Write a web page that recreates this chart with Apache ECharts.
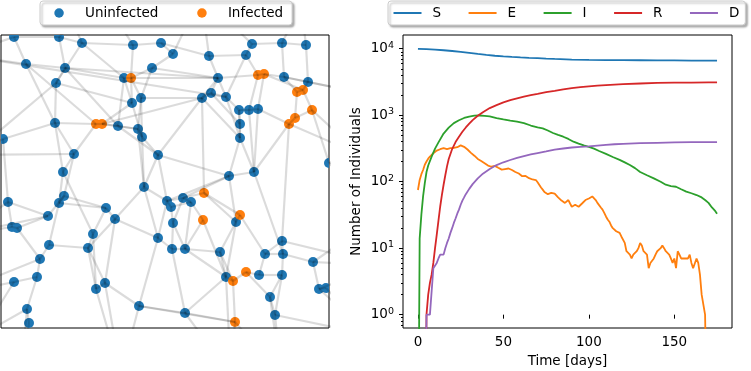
<!DOCTYPE html>
<html>
<head>
<meta charset="utf-8">
<title>SEIRD on a contact network</title>
<script src="https://cdn.jsdelivr.net/npm/echarts@6/dist/echarts.min.js"></script>
<style>
  html, body { margin: 0; padding: 0; background: #fff; }
  #chart { width: 751px; height: 371px; }
</style>
</head>
<body>
<div id="chart"></div>
<script>
// ---- network snapshot (layout units of the left box, y grows downward) ----
const nodeX = [13, 58, 81, 132, 160, 172, 25, 64, 151, 55, 123, 130, 140, 131, 54, 95, 101, 117, 137, 141,
  2, 73, 157, 62, 251, 281, 305, 208, 245, 257, 263, 283, 307, 217, 210, 201, 225, 296, 302, 311,
  294, 288, 238, 248, 257, 239, 239, 328, 228, 253, 143, 7, 63, 58, 105, 114, 47, 166, 170, 172,
  11, 16, 92, 157, 171, 48, 87, 39, 36, 13, 95, 104, 138, 26, 28, 182, 190, 203, 239, 202,
  235, 281, 184, 219, 264, 282, 312, 245, 225, 232, 258, 281, 318, 325, 269, 184, 274, 234,
  // nodes lying outside the visible window
  -40, -30, -50, 60, 200, 300, 370, 380, 370, 120, 230, 20, 360, -20, 100, 380, 280, -40];
const nodeY = [2, 2, 8, 10, 8, 19, 29, 33, 33, 48, 43, 43, 63, 68, 88, 89, 89, 91, 94, 102,
  104, 119, 120, 137, 9, 8, 10, 21, 20, 40, 39, 42, 47, 43, 58, 63, 62, 57, 55, 75,
  83, 89, 75, 75, 74, 89, 103, 128, 141, 137, 152, 167, 161, 168, 173, 184, 181, 166, 172, 188,
  192, 193, 199, 203, 214, 210, 213, 224, 242, 247, 254, 248, 271, 274, 288, 163, 167, 158, 180, 185,
  187, 206, 214, 217, 219, 219, 227, 237, 242, 246, 240, 240, 254, 253, 262, 278, 280, 287,
  20, 120, 260, -40, -40, -30, 60, 180, 300, 340, 340, 340, 120, 300, -40, 230, 340, 200];
// 1 = infected, 0 = uninfected
const nodeState = [0, 0, 0, 0, 0, 0, 0, 0, 0, 0, 0, 1, 0, 0, 0, 1, 1, 0, 0, 0,
  0, 0, 0, 0, 0, 0, 0, 0, 0, 1, 1, 0, 0, 0, 0, 0, 0, 1, 1, 1,
  1, 1, 0, 0, 0, 0, 0, 0, 0, 0, 0, 0, 0, 0, 0, 0, 0, 0, 0, 0,
  0, 0, 0, 0, 0, 0, 0, 0, 0, 0, 0, 0, 0, 0, 0, 0, 0, 1, 1, 1,
  0, 0, 0, 0, 0, 0, 0, 1, 0, 1, 0, 0, 0, 0, 0, 0, 0, 1,
  0, 0, 0, 0, 0, 0, 0, 0, 0, 0, 0, 0, 0, 0, 0, 0, 0, 0];
const edges = [
  [0, 1], [0, 6], [0, 98], [1, 2], [1, 7], [1, 112], [2, 3], [2, 10], [2, 101], [3, 4], [3, 11], [3, 112],
  [4, 5], [4, 27], [5, 8], [5, 102], [6, 7], [6, 14], [6, 98], [6, 15], [7, 9], [7, 17], [7, 10], [8, 11],
  [8, 12], [8, 33], [9, 14], [9, 99], [10, 11], [10, 13], [11, 12], [11, 13], [12, 18], [12, 35], [13, 16],
  [13, 19], [14, 15], [14, 20], [14, 21], [15, 16], [16, 17], [16, 18], [16, 35], [17, 18], [17, 22],
  [18, 19], [19, 22], [19, 50], [20, 51], [20, 99], [21, 23], [21, 52], [21, 15], [22, 57], [22, 35],
  [22, 48], [23, 53], [23, 62], [23, 14],
  [24, 25], [24, 28], [24, 102], [25, 26], [25, 31], [25, 103], [26, 32], [26, 103], [27, 28], [27, 33],
  [27, 102], [28, 29], [28, 36], [29, 30], [29, 33], [29, 43], [30, 31], [30, 38], [30, 44], [31, 32],
  [31, 37], [32, 104], [32, 38], [33, 36], [33, 35], [34, 35], [34, 36], [34, 45], [35, 46], [36, 42],
  [37, 38], [37, 40], [38, 39], [39, 40], [39, 110], [39, 47], [40, 41], [41, 44], [41, 49], [41, 81],
  [42, 43], [42, 45], [43, 44], [45, 46], [46, 48], [46, 49], [47, 110], [47, 105], [48, 49], [48, 75],
  [48, 80], [49, 85],
  [50, 57], [50, 63], [50, 55], [51, 60], [51, 56], [51, 115], [52, 53], [52, 56], [52, 54], [53, 65],
  [54, 55], [54, 62], [55, 63], [55, 71], [56, 61], [57, 58], [57, 75], [58, 59], [58, 76], [59, 64],
  [59, 82], [60, 61], [60, 115], [61, 67], [62, 66], [62, 70], [63, 64], [63, 72], [64, 82], [65, 67],
  [65, 66], [66, 70], [67, 68], [68, 69], [68, 73], [69, 111], [69, 100], [70, 71], [70, 107], [71, 72],
  [72, 95], [72, 107], [73, 74], [74, 109],
  [75, 76], [75, 77], [76, 79], [77, 80], [77, 78], [77, 35], [78, 80], [78, 84], [79, 82], [79, 88],
  [80, 83], [81, 85], [81, 84], [81, 113], [82, 83], [83, 88], [83, 89], [84, 90], [84, 85], [85, 91],
  [85, 86], [86, 92], [86, 113], [87, 89], [87, 90], [87, 94], [88, 89], [89, 97], [90, 91], [91, 96],
  [92, 93], [93, 106], [94, 96], [94, 114], [95, 97], [95, 108], [96, 106], [97, 108], [97, 114],
  [91, 94], [72, 97], [88, 95], [64, 95],
  // longer links crossing the window
  [98, 36], [7, 33], [9, 13], [11, 33], [104, 31], [110, 41], [105, 86], [113, 92], [99, 21], [115, 56],
  [111, 73], [109, 73], [107, 71], [108, 88], [114, 96], [106, 92], [100, 67], [2, 9], [10, 17], [12, 19],
  [18, 50], [22, 50], [33, 34], [42, 46], [43, 49], [44, 49], [80, 88], [82, 88], [76, 82], [75, 59],
  [63, 57], [54, 53], [55, 66], [71, 66], [57, 48], [36, 46]
];

// ---- epidemic curves ----
const sDays = [0, 5, 10, 15, 20, 25, 30, 35, 40, 45, 50, 55, 60, 65, 70, 75, 80, 90, 100, 110, 120, 130, 140, 150, 160, 170, 175];
const sValues = [9925, 9840, 9700, 9500, 9250, 8950, 8650, 8350, 8080, 7850, 7680, 7540, 7420, 7310, 7210, 7110, 7030, 6880, 6800, 6760, 6730, 6710, 6690, 6670, 6650, 6640, 6630];

// exposed, one value per day from day 0
const eValues = [75, 106, 130, 150, 180, 201, 222, 239, 255, 268,
  282, 294, 300, 308, 315, 319, 312, 308, 314, 319,
  316, 322, 319, 330, 345, 352, 350, 335, 318, 305,
  290, 272, 258, 246, 232, 220, 212, 205, 200, 190,
  180, 175, 170, 168, 172, 173, 166, 162, 158, 152,
  150, 155, 160, 158, 153, 150, 145, 140, 134, 133,
  128, 121, 124, 122, 116, 113, 112, 108, 111, 106,
  98, 92, 82, 76, 70, 67, 65, 63, 68, 70,
  66, 62, 58, 55, 52, 50, 48, 49, 53, 47,
  42, 44, 45, 43, 42, 45, 47, 50, 53, 55,
  56, 58, 60, 57, 53, 48, 45, 41, 38, 34,
  30, 27, 25, 22, 20, 19, 18, 17, 17, 15,
  14, 12, 9, 9, 8, 7, 8, 8, 9, 10,
  12, 11, 9, 9, 8, 5, 6, 6, 7, 8,
  9, 9, 10, 11, 10, 9, 9, 8, 7, 6,
  7, 5, 9, 8, 7, 7, 7, 7, 7, 8,
  6, 5, 5, 7, 6, 4, 2, 2, 1, 1,
  0, 0, 0, 0, 0, 0];

const iDays = [0, 1, 2, 3, 4, 5, 6, 8, 10, 12, 15, 18, 21, 24, 27, 30, 33, 36, 39, 42, 46, 50, 54, 58, 62, 66, 70,
  73, 76, 79, 82, 85, 88, 91, 94, 97, 100, 103, 106, 110, 114, 118, 121, 124, 127, 130,
  134, 138, 142, 145, 148, 151, 154, 157, 160, 163, 166, 168, 170, 172, 174, 175];
const iValues = [0, 14, 32, 60, 95, 140, 175, 238, 315, 390, 530, 650, 760, 840, 910, 955, 985, 990, 980, 960, 905, 865, 830, 800, 760, 700, 655,
  635, 590, 540, 505, 475, 440, 400, 375, 352, 335, 315, 290, 262, 235, 213, 195, 178, 160, 140,
  125, 112, 100, 90, 86, 84, 77, 71, 67, 63, 58, 53, 48, 41, 36, 33];

const rDays = [0, 4, 5, 6, 7, 8, 9, 10, 11, 12, 13, 14, 15, 16, 17, 18, 20, 22, 24, 26, 28, 30, 32, 35, 38, 42, 46, 50, 54, 58,
  62, 66, 70, 75, 80, 85, 90, 95, 100, 105, 110, 115, 120, 130, 140, 150, 160, 170, 175];
const rValues = [0, 0, 1, 2, 3, 4, 6, 10, 16, 26, 42, 63, 90, 125, 170, 220, 310, 395, 475, 565, 655, 745, 845, 980, 1110, 1280, 1420, 1560, 1690, 1800,
  1910, 2010, 2100, 2220, 2330, 2450, 2560, 2640, 2710, 2780, 2840, 2890, 2930, 3000, 3060, 3090, 3100, 3120, 3130];

const dDays = [0, 4, 5, 6, 7, 8, 9, 10, 11, 12, 13, 14, 15, 16, 17, 18, 19, 20, 21, 22, 23, 24, 25, 26, 27, 28, 30, 32, 35, 38,
  42, 46, 50, 54, 58, 62, 66, 70, 75, 80, 85, 90, 95, 100, 105, 110, 115, 120, 130, 140, 150, 160, 170, 175];
const dValues = [0, 0, 1, 1, 1, 1, 5, 5, 6, 7, 8, 8, 8, 10, 12, 14, 17, 20, 24, 28, 33, 38, 45, 52, 58, 65, 78, 92, 112, 132,
  155, 178, 196, 212, 228, 243, 257, 270, 285, 303, 316, 327, 334, 340, 350, 359, 366, 372, 380, 385, 390, 393, 395, 395];

const xTicks = [0, 50, 100, 150];
const yExponents = [0, 1, 2, 3, 4];

const FONT = 'DejaVu Sans';
const Y_MIN = 0.63, Y_MAX = 16100;
const ZERO_FLOOR = 1e-3; // zeros have no place on a log axis, push them below the frame

const minorTicks = [];
for (let d = -1; d <= 4; d++) {
    for (let k = 2; k <= 9; k++) {
        const v = k * Math.pow(10, d);
        if (v > Y_MIN && v < Y_MAX) minorTicks.push(Math.log10(v));
    }
}

function pairs(days, vals) {
    return days.map((d, i) => [d, vals[i] > 0 ? vals[i] : ZERO_FLOOR]);
}

function nodesOf(state) {
    const out = [];
    nodeX.forEach((x, i) => {
        if (nodeState[i] === state) out.push([x, nodeY[i]]);
    });
    return out;
}

// round node markers, clipped by the box like the original
function renderNode(params, api) {
    const p = api.coord([api.value(0), api.value(1)]);
    return {
        type: 'circle',
        shape: { cx: p[0], cy: p[1], r: 5 },
        style: { fill: api.visual('color') }
    };
}

const chart = echarts.init(document.getElementById('chart'));

const curve = (name, color, data) => ({
    name: name,
    type: 'line',
    xAxisIndex: 1,
    yAxisIndex: 1,
    data: data,
    color: color,
    showSymbol: false,
    symbol: 'none',
    lineStyle: { width: 1.8, color: color },
    clip: true,
    silent: true
});

const legendBox = {
    top: 1,
    orient: 'horizontal',
    backgroundColor: '#fff',
    borderColor: '#cccccc',
    borderWidth: 1,
    borderRadius: 3,
    shadowColor: 'rgba(0,0,0,0.3)',
    shadowBlur: 2,
    shadowOffsetX: 2,
    shadowOffsetY: 2,
    selectedMode: false,
    itemStyle: { borderWidth: 0 }
};

const option = {
    animation: false,
    backgroundColor: '#fff',
    legend: [
        Object.assign({}, legendBox, {
            left: 40,
            itemWidth: 9.5,
            itemHeight: 9.5,
            itemGap: 38.8,
            padding: [5, 9, 5, 14.3],
            textStyle: { fontFamily: FONT, fontSize: 13.5, color: '#000', padding: [0, 0, 0, 16.2] },
            data: [{ name: 'Uninfected', icon: 'circle' }, { name: 'Infected', icon: 'circle' }]
        }),
        Object.assign({}, legendBox, {
            left: 388,
            itemWidth: 28,
            itemHeight: 2,
            itemGap: 27.5,
            padding: [5, 6, 5, 5.5],
            textStyle: { fontFamily: FONT, fontSize: 13.5, color: '#000', padding: [0, 0, 0, 6] },
            data: ['S', 'E', 'I', 'R', 'D'].map(n => ({ name: n, icon: 'rect' }))
        })
    ],
    grid: [
        { left: 1, top: 35, width: 328, height: 293, show: true, borderColor: '#000', borderWidth: 1, outerBoundsMode: 'none' },
        { left: 403, top: 35, width: 329, height: 293, show: true, borderColor: '#000', borderWidth: 1, outerBoundsMode: 'none' }
    ],
    xAxis: [
        { gridIndex: 0, type: 'value', min: 0, max: 328, show: false },
        {
            gridIndex: 1, type: 'value', min: -8.75, max: 183.75,
            axisLine: { show: false },
            splitLine: { show: false },
            axisTick: { show: true, customValues: xTicks, length: 4, lineStyle: { color: '#000' } },
            axisLabel: { customValues: xTicks, margin: 7, fontFamily: FONT, fontSize: 13.5, color: '#000' },
            name: 'Time [days]',
            nameLocation: 'middle',
            nameGap: 26,
            nameTextStyle: { fontFamily: FONT, fontSize: 13.5, color: '#000' }
        }
    ],
    yAxis: [
        { gridIndex: 0, type: 'value', min: 0, max: 293, inverse: true, show: false },
        // the log scale that carries the curves
        { gridIndex: 1, type: 'log', logBase: 10, min: Y_MIN, max: Y_MAX, show: false, position: 'left' },
        // decades, drawn on an exponent axis that spans the same range
        {
            gridIndex: 1, type: 'value', position: 'left', offset: 0,
            min: Math.log10(Y_MIN), max: Math.log10(Y_MAX),
            axisLine: { show: false },
            splitLine: { show: false },
            axisTick: { show: true, customValues: yExponents, length: 4, lineStyle: { color: '#000' } },
            axisLabel: {
                customValues: yExponents,
                margin: 9,
                formatter: v => '{b|10}{s|' + Math.round(v) + '}',
                rich: {
                    b: { fontFamily: FONT, fontSize: 13.5, color: '#000' },
                    s: { fontFamily: FONT, fontSize: 9.5, color: '#000', padding: [0, 0, 7, 0] }
                }
            },
            name: 'Number of Individuals',
            nameLocation: 'middle',
            nameGap: 40,
            nameTextStyle: { fontFamily: FONT, fontSize: 13.5, color: '#000' }
        },
        {
            gridIndex: 1, type: 'value', position: 'left', offset: 0,
            min: Math.log10(Y_MIN), max: Math.log10(Y_MAX),
            axisLine: { show: false },
            splitLine: { show: false },
            axisLabel: { show: false },
            axisTick: { show: true, customValues: minorTicks, length: 2, lineStyle: { color: '#000' } }
        }
    ],
    series: [
        {
            name: 'Uninfected', type: 'custom', xAxisIndex: 0, yAxisIndex: 0,
            renderItem: renderNode, data: nodesOf(0),
            itemStyle: { color: '#1f77b4' }, clip: true, z: 2, silent: true
        },
        {
            name: 'Infected', type: 'custom', xAxisIndex: 0, yAxisIndex: 0,
            renderItem: renderNode, data: nodesOf(1),
            itemStyle: { color: '#ff7f0e' }, clip: true, z: 2, silent: true
        },
        {
            type: 'lines', coordinateSystem: 'cartesian2d', xAxisIndex: 0, yAxisIndex: 0,
            data: edges.map(([a, b]) => ({ coords: [[nodeX[a], nodeY[a]], [nodeX[b], nodeY[b]]] })),
            lineStyle: { color: '#000', opacity: 0.14, width: 2.2 },
            clip: true, silent: true, z: 3
        },
        curve('S', '#1f77b4', pairs(sDays, sValues)),
        curve('E', '#ff7f0e', pairs(eValues.map((v, i) => i), eValues)),
        curve('I', '#2ca02c', pairs(iDays, iValues)),
        curve('R', '#d62728', pairs(rDays, rValues)),
        curve('D', '#9467bd', pairs(dDays, dValues))
    ]
};

chart.setOption(option);
</script>
</body>
</html>
